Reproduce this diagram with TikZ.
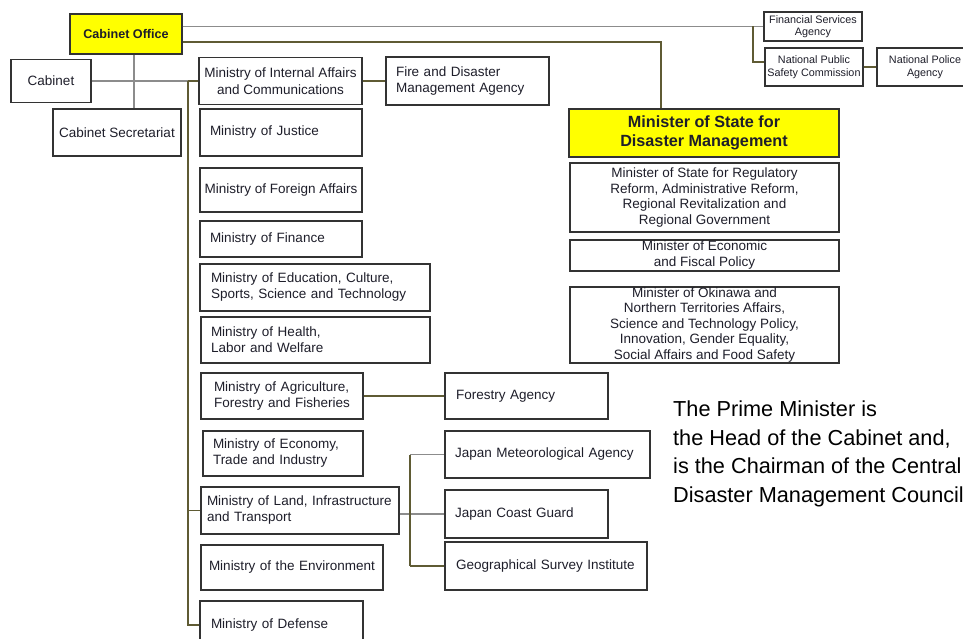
\documentclass[tikz,border=0pt]{standalone}
\usepackage{fontspec}
\setmainfont{Liberation Sans}
\definecolor{boxc}{HTML}{333333}
\definecolor{txt}{HTML}{1E1E2A}
\definecolor{lgray}{HTML}{8C8C8C}
\definecolor{oliveln}{HTML}{5F5B34}
\definecolor{yel}{HTML}{FFFF00}
\newcommand\myfN{\fontsize{13.5}{16}\selectfont}
\newcommand\myfS{\fontsize{10.8}{12.5}\selectfont}
\newcommand\myfCO{\fontsize{12.6}{15}\selectfont\bfseries}
\newcommand\myfDM{\fontsize{16.2}{19}\selectfont\bfseries}
\newcommand\myfBig{\fontsize{21.7}{28.4}\selectfont}
\hyphenpenalty=10000
\exhyphenpenalty=10000
\tikzset{
  box/.style={draw=boxc, line width=1.3pt, inner ysep=0pt, font=\myfN, text=txt, fill=white},
  cbox/.style={box, align=center, inner xsep=0pt},
  lbox/.style={box, align=left},
  gline/.style={draw=lgray, line width=1.4pt},
  oline/.style={draw=oliveln, line width=1.4pt}
}
\begin{document}
\begin{tikzpicture}[x=1pt,y=-1pt]
\useasboundingbox[fill=white] (0,0) rectangle (963,639);
% top-left
\node[cbox, fill=yel, font=\myfCO, minimum width=112pt, minimum height=40pt] (CO) at (126,34) {Cabinet Office};
\node[cbox, minimum width=80pt, minimum height=43pt] (Cab) at (51,81) {Cabinet};
\node[cbox, minimum width=128pt, minimum height=47pt] (CS) at (117,132.5) {Cabinet Secretariat};
% ministries
\node[cbox, font=\fontsize{13.5}{17}\selectfont, minimum width=163pt, minimum height=47pt] (MIAC) at (280.5,81) {Ministry of Internal Affairs\\and Communications};
\node[lbox, text width=143pt, inner xsep=10pt, minimum height=48pt] (Fire) at (467.5,81) {Fire and Disaster\\Management Agency};
\node[lbox, text width=142pt, inner xsep=10pt, minimum height=47pt] (Jus) at (281,132.5) {Ministry of Justice};
\node[cbox, minimum width=162pt, minimum height=44pt] (For) at (281,190) {Ministry of Foreign Affairs};
\node[lbox, text width=142pt, inner xsep=10pt, minimum height=36pt] (Fin) at (281,239) {Ministry of Finance};
\node[lbox, text width=208pt, inner xsep=11pt, minimum height=47pt] (Edu) at (315,287.5) {Ministry of Education, Culture,\\Sports, Science and Technology};
\node[lbox, text width=209pt, inner xsep=10pt, minimum height=46pt] (Hea) at (315.5,340) {Ministry of Health,\\Labor and Welfare};
\node[lbox, text width=136pt, inner xsep=13pt, minimum height=46pt] (Agr) at (282,396) {\mbox{Ministry of Agriculture,}\\Forestry and Fisheries};
\node[lbox, text width=141pt, inner xsep=11pt, minimum height=46pt] (Forestry) at (526.5,396) {Forestry Agency};
\node[lbox, text width=140pt, inner xsep=10pt, minimum height=45pt] (Eco) at (283,453.5) {Ministry of Economy,\\Trade and Industry};
\node[lbox, text width=186pt, inner xsep=6pt, minimum height=47pt] (Land) at (300,510.5) {\mbox{Ministry of Land, Infrastructure}\\and Transport};
\node[lbox, text width=166pt, inner xsep=8pt, minimum height=45pt] (Env) at (292,567.5) {\mbox{Ministry of the Environment}};
\node[lbox, text width=141pt, inner xsep=11pt, minimum height=48pt] (Def) at (281.5,625) {Ministry of Defense};
% agencies under MLIT
\node[lbox, text width=185pt, inner xsep=10pt, minimum height=47pt] (JMA) at (547.5,454.5) {Japan Meteorological Agency};
\node[lbox, text width=143pt, inner xsep=10pt, minimum height=48pt] (JCG) at (526.5,514) {Japan Coast Guard};
\node[lbox, text width=180pt, inner xsep=11pt, minimum height=48pt] (GSI) at (546,566) {Geographical Survey Institute};
% right column
\node[cbox, fill=yel, font=\myfDM, minimum width=270pt, minimum height=48pt] (MSDM) at (704,133) {Minister of State for\\Disaster Management};
\node[cbox, font=\fontsize{13.5}{15.6}\selectfont, minimum width=269pt, minimum height=69pt] (Reg) at (704.5,197.5) {Minister of State for Regulatory\\Reform, Administrative Reform,\\Regional Revitalization and\\Regional Government};
\node[cbox, font=\fontsize{13.5}{16}\selectfont, minimum width=269pt, minimum height=31pt] (EcoF) at (704.5,255.5) {Minister of Economic\\and Fiscal Policy};
\node[cbox, font=\fontsize{13.5}{15.5}\selectfont, minimum width=269pt, minimum height=76pt] (Oki) at (704.5,325) {Minister of Okinawa and\\Northern Territories Affairs,\\Science and Technology Policy,\\Innovation, Gender Equality,\\Social Affairs and Food Safety};
% small boxes top right
\node[cbox, font=\myfS, minimum width=98pt, minimum height=29pt] (FSA) at (813,26.5) {Financial Services\\Agency};
\node[cbox, font=\fontsize{10.8}{13}\selectfont, minimum width=98pt, minimum height=38pt] (NPSC) at (814,67) {National Public\\Safety Commission};
\node[cbox, font=\fontsize{10.8}{13}\selectfont, minimum width=96pt, minimum height=38pt] (NPA) at (925,67) {National Police\\Agency};
% note
\node[anchor=north west, inner sep=0pt, align=left, font=\myfBig, text=black] (pm) at (673,401) {The Prime Minister is\\the Head of the Cabinet and,\\is the Chairman of the Central\\Disaster Management Council};
% connectors
\coordinate (j1) at (753,26.5);
\coordinate (k1) at (661,42);
\coordinate (cv) at (134,54);
\coordinate (t0) at (188,81);
\coordinate (v) at (410,456);
\draw[gline] (CO.east |- FSA.west) -- (FSA.west);
\draw[oline] (j1) |- ([yshift=5pt]NPSC.west);
\draw[oline] (NPSC.east) -- (NPA.west);
\draw[oline] (CO.east |- k1) -- (k1) -- (k1 |- MSDM.north);
\draw[gline] (cv |- CO.south) -- (cv |- CS.north);
\draw[gline] (Cab.east) -- (t0);
\draw[oline] (t0) -- (t0 -| MIAC.west);
\draw[oline] (t0) |- (Def.west);
\draw[oline] (t0 |- Land.west) -- (Land.west);
\draw[oline] (MIAC.east) -- (MIAC.east -| Fire.west);
\draw[oline] (Agr.east) -- (Forestry.west);
\draw[gline] (Land.east |- JCG.west) -- (JCG.west);
\draw[oline] (v |- JMA.west) -- (v |- GSI.west);
\draw[gline] (v |- JMA.west) -- (JMA.west);
\draw[oline] (v |- GSI.west) -- (GSI.west);
\end{tikzpicture}
\end{document}
